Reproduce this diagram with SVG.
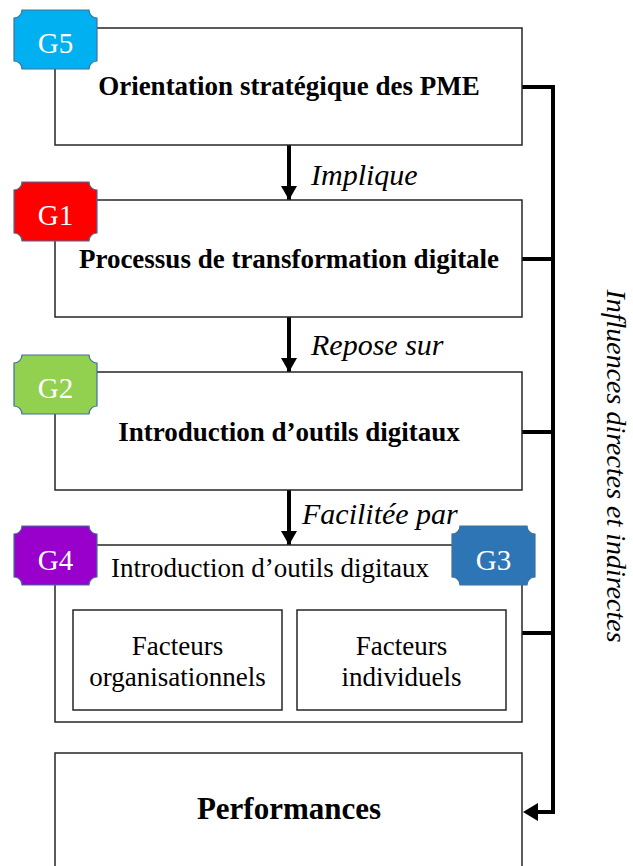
<svg xmlns="http://www.w3.org/2000/svg" width="633" height="866" viewBox="0 0 633 866">
<style>
text{font-family:"Liberation Serif","Times New Roman","DejaVu Serif",serif}
.box{fill:#fff;stroke:#262626;stroke-width:1.5}
.badge{stroke:#41719C;stroke-width:1.2}
.bt{font-size:29px;fill:#fff;text-anchor:middle}
.bold{font-weight:bold;font-size:27px;fill:#000;text-anchor:middle}
.reg{font-size:27px;fill:#000;text-anchor:middle}
.it{font-style:italic;font-size:30px;fill:#000}
.conn{stroke:#000;stroke-width:4;fill:none}
</style>
<defs>
<path id="badge" d="M8,0 H75 A8,8 0 0 0 83,8 V51 A8,8 0 0 0 75,59 H8 A8,8 0 0 0 0,51 V8 A8,8 0 0 0 8,0 Z"/>
<marker id="ah" markerUnits="userSpaceOnUse" markerWidth="16" markerHeight="16" refX="14" refY="8" orient="auto">
<path d="M0,0 L14,8 L0,16 Z" fill="#000"/>
</marker>
</defs>

<g id="connectors">
<line class="conn" x1="289" y1="145" x2="289" y2="200" stroke-width="3.5" marker-end="url(#ah)"/>
<line class="conn" x1="289" y1="317" x2="289" y2="372" stroke-width="3.5" marker-end="url(#ah)"/>
<line class="conn" x1="289" y1="490" x2="289" y2="545" stroke-width="3.5" marker-end="url(#ah)"/>
<polyline class="conn" points="522,87 553,87 553,812 536,812"/>
<line class="conn" x1="522" y1="259" x2="553" y2="259"/>
<line class="conn" x1="522" y1="432" x2="553" y2="432"/>
<line class="conn" x1="522" y1="633" x2="553" y2="633"/>
<path d="M523,812 L538,803 L538,821 Z" fill="#000"/>
<text class="it" x="311" y="185">Implique</text>
<text class="it" x="311" y="355">Repose sur</text>
<text class="it" x="302" y="524">Facilitée par</text>
<text class="it" transform="translate(607,466) rotate(90)" text-anchor="middle" style="font-size:28px">Influences directes et indirectes</text>
</g>

<g id="n1">
<rect class="box" x="55" y="28" width="467" height="117"/>
<text class="bold" x="289" y="95">Orientation stratégique des PME</text>
</g>
<g id="n2">
<rect class="box" x="55" y="200" width="467" height="117"/>
<text class="bold" x="289" y="268">Processus de transformation digitale</text>
</g>
<g id="n3">
<rect class="box" x="55" y="372" width="467" height="118"/>
<text class="bold" x="289" y="441">Introduction d’outils digitaux</text>
</g>
<g id="n4">
<rect class="box" x="55" y="545" width="467" height="177"/>
<text class="reg" x="270" y="577">Introduction d’outils digitaux</text>
</g>
<g id="n4a">
<rect class="box" x="73" y="610" width="209" height="100"/>
<text class="reg" x="177.5" y="655">Facteurs</text>
<text class="reg" x="177.5" y="686">organisationnels</text>
</g>
<g id="n4b">
<rect class="box" x="297" y="610" width="209" height="100"/>
<text class="reg" x="401.5" y="655">Facteurs</text>
<text class="reg" x="401.5" y="686">individuels</text>
</g>
<g id="n5">
<rect class="box" x="55" y="753" width="467" height="130"/>
<text class="bold" x="289" y="819" style="font-size:31px">Performances</text>
</g>

<g id="g5">
<use href="#badge" x="14" y="10" class="badge" fill="#00B0F0"/>
<text class="bt" x="55.5" y="53">G5</text>
</g>
<g id="g1">
<use href="#badge" x="14" y="182" class="badge" fill="#FF0000"/>
<text class="bt" x="55.5" y="225">G1</text>
</g>
<g id="g2">
<use href="#badge" x="14" y="355" class="badge" fill="#92D050"/>
<text class="bt" x="55.5" y="398">G2</text>
</g>
<g id="g4">
<use href="#badge" x="14" y="526" class="badge" fill="#9900CC"/>
<text class="bt" x="55.5" y="570">G4</text>
</g>
<g id="g3">
<use href="#badge" x="452" y="526" class="badge" fill="#2E75B6"/>
<text class="bt" x="493.5" y="570">G3</text>
</g>
</svg>
